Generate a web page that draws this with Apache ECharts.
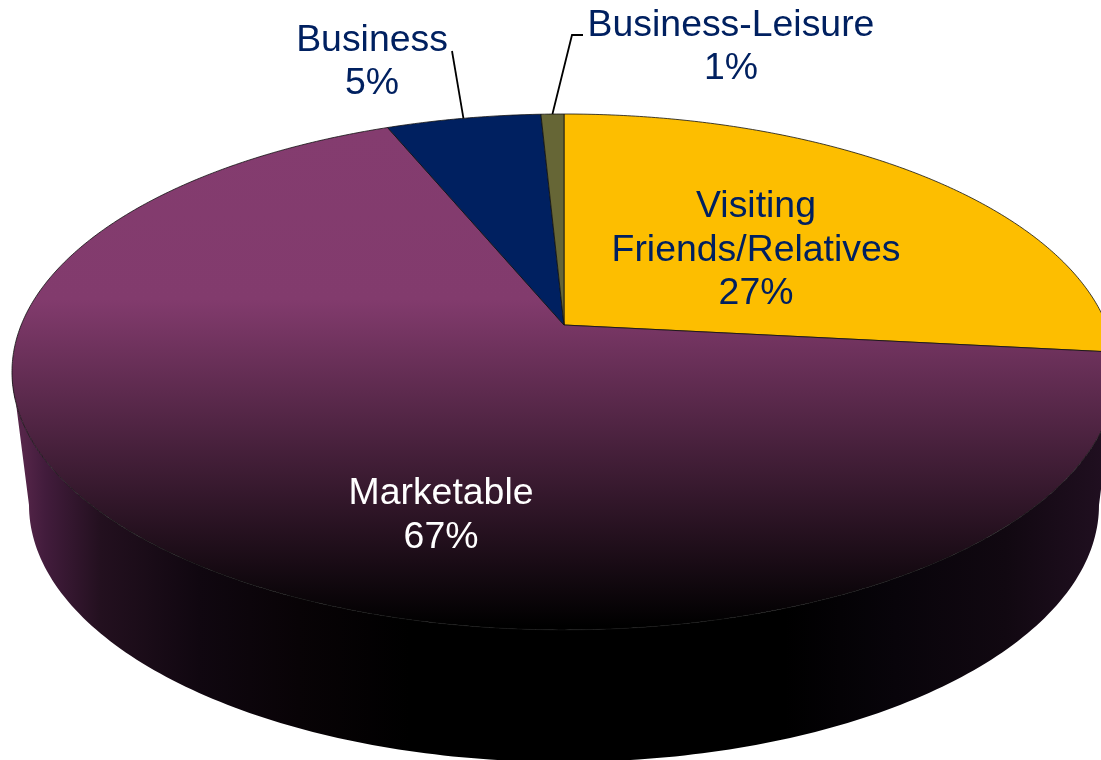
<!DOCTYPE html>
<html>
<head>
<meta charset="utf-8">
<style>html,body{margin:0;padding:0;background:#fff;overflow:hidden}#c{width:1101px;height:760px}</style>
<script src="https://cdn.jsdelivr.net/npm/echarts@6/dist/echarts.min.js"></script>
</head>
<body>
<div id="c"></div>
<script>
// Data (clockwise from 12 o'clock)
const categories = ['Visiting\nFriends/Relatives', 'Marketable', 'Business', 'Business-Leisure'];
const shares = [26.7, 67.1, 5.4, 0.8];

// Styling and layout
const colors = ['#FDBE00', null, '#002060', '#666636'];
const textColors = ['#002060', '#FFFFFF', '#002060', '#002060'];
const labelAnchors = [[756, 250.5], [441, 515.5], [372, 62], [731, 47]];
const leaderStarts = [null, null, [[452, 51]], [[583, 35], [572, 35]]];

// Tilted-disc projection
const CX = 564, CY = 325, A = 542.8, B = 249.4, C = 0.182;
function project(deg) {
  const t = deg * Math.PI / 180, u = Math.sin(t), v = Math.cos(t), w = 1 + C * v;
  return [CX + A * u / w, CY - B * v / w];
}
function arc(from, to) {
  const n = Math.max(2, Math.ceil(Math.abs(to - from) * 2)), pts = [];
  for (let i = 0; i <= n; i++) pts.push(project(from + (to - from) * i / n));
  return pts;
}
const total = shares.reduce((a, b) => a + b, 0);
const starts = [];
shares.reduce((acc, v, i) => { starts[i] = acc; return acc + v; }, 0);

const topFill = {
  type: 'linear', global: true, x: 0, y: 128, x2: 0, y2: 626,
  colorStops: [
    { offset: 0, color: '#843C6F' },
    { offset: 0.345, color: '#823B6D' },
    { offset: 1, color: '#000000' }
  ]
};
const wallFill = {
  type: 'linear', global: true, x: 12, y: 0, x2: 1116, y2: 0,
  colorStops: [
    { offset: 0.01, color: '#552549' },
    { offset: 0.03, color: '#421C3C' },
    { offset: 0.08, color: '#23101F' },
    { offset: 0.17, color: '#100710' },
    { offset: 0.26, color: '#080306' },
    { offset: 0.36, color: '#000000' },
    { offset: 0.7, color: '#000000' },
    { offset: 0.8, color: '#08040A' },
    { offset: 0.9, color: '#110811' },
    { offset: 1, color: '#221022' }
  ]
};

function wallPoints() {
  const ext = Math.acos(-C) * 180 / Math.PI;
  const pts = arc(ext, 360 - ext);
  for (let d = 0; d <= 180; d += 1) {
    const t = d * Math.PI / 180;
    pts.push([CX - 535 * Math.cos(t), 505 + 257 * Math.sin(t)]);
  }
  return pts;
}

function renderItem(params, api) {
  const i = params.dataIndex;
  const a0 = starts[i] / total * 360;
  const a1 = (starts[i] + api.value(0)) / total * 360;
  const children = [];
  if (i === 1) {
    children.push({
      type: 'polygon', z2: 1,
      shape: { points: wallPoints() },
      style: { fill: wallFill, stroke: null }
    });
  }
  children.push({
    type: 'polygon', z2: 2,
    shape: { points: [[CX, CY]].concat(arc(a0, a1)) },
    style: { fill: colors[i] || topFill, stroke: '#111111', lineWidth: 0.8, lineJoin: 'round' }
  });
  if (leaderStarts[i]) {
    children.push({
      type: 'polyline', z2: 3,
      shape: { points: leaderStarts[i].concat([project((a0 + a1) / 2)]) },
      style: { fill: null, stroke: '#000000', lineWidth: 1.8 }
    });
  }
  children.push({
    type: 'text', z2: 4,
    style: {
      x: labelAnchors[i][0], y: labelAnchors[i][1],
      text: categories[i] + '\n' + Math.round(api.value(0)) + '%',
      fill: textColors[i],
      font: '37.4px "Liberation Sans", Arial, sans-serif',
      lineHeight: 43.5,
      align: 'center', verticalAlign: 'middle'
    }
  });
  return { type: 'group', children: children };
}

const chart = echarts.init(document.getElementById('c'), null, { renderer: 'canvas', width: 1101, height: 760 });
chart.setOption({
  animation: false,
  backgroundColor: '#FFFFFF',
  series: [{
    type: 'custom',
    coordinateSystem: 'none',
    renderItem: renderItem,
    silent: true,
    data: shares.map((v, i) => ({ name: categories[i], value: [v] }))
  }]
});
</script>
</body>
</html>
